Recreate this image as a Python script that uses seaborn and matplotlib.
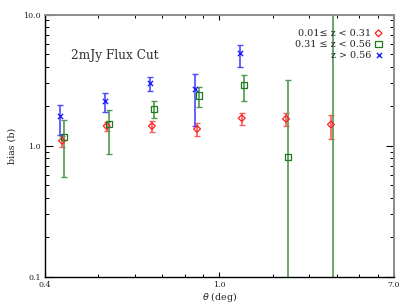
import numpy as np
import pandas as pd
import matplotlib
matplotlib.use("Agg")
import matplotlib.pyplot as plt
import matplotlib.ticker as mticker
import seaborn as sns

# bias vs angular scale, three redshift bins
theta_low = [0.427, 0.520, 0.659, 0.864, 1.361, 2.323, 3.759]
bias_low = [1.09, 1.41, 1.41, 1.34, 1.62, 1.60, 1.45]
bias_low_lo = [0.974, 1.30, 1.27, 1.19, 1.44, 1.42, 1.12]
bias_low_hi = [1.19, 1.52, 1.53, 1.49, 1.77, 1.76, 1.72]

theta_mid = [0.431, 0.526, 0.667, 0.876, 1.397, 2.384, 3.836]
bias_mid = [1.17, 1.46, 1.91, 2.41, 2.88, 0.821, 20.0]
bias_mid_lo = [0.578, 0.861, 1.61, 1.97, 2.19, 0.01, 0.01]
bias_mid_hi = [1.56, 1.88, 2.17, 2.80, 3.43, 3.17, 100.0]

theta_high = [0.424, 0.516, 0.653, 0.853, 1.325]
bias_high = [1.68, 2.20, 3.02, 2.70, 5.05]
bias_high_lo = [1.20, 1.79, 2.59, 1.42, 3.98]
bias_high_hi = [2.04, 2.52, 3.34, 3.52, 5.89]

labels = ["0.01\u2264 z < 0.31", "0.31 \u2264 z < 0.56", "z > 0.56"]
x_ticks = [0.4, 1.0, 7.0]
x_minor = [0.5, 0.6, 0.7, 0.8, 0.9, 2, 3, 4, 5, 6]
y_ticks = [0.1, 1.0, 10.0]

sns.set_style("ticks")
plt.rcParams['font.family'] = ['DejaVu Serif']

# the theta axis of the original is stretched: 0.4-1 and 1-7 each take half the width
K = np.log10(7.7 / 1.7)


def fwd(x):
    x = np.asarray(x, dtype=float)
    lo = np.log10(np.clip(10 * x - 2.3, 1e-6, None) / 1.7) / K - 1
    hi = np.log10(np.clip(x + 0.7, 1e-6, None) / 1.7) / K
    return np.where(x < 1, lo, hi)


def inv(u):
    u = np.clip(np.asarray(u, dtype=float), -5, 5)
    lo = (1.7 * 10 ** ((u + 1) * K) + 2.3) / 10
    hi = 1.7 * 10 ** (u * K) - 0.7
    return np.where(u < 0, lo, hi)


fig = plt.figure(figsize=(4.07, 3.06), dpi=100)
ax = fig.add_axes([45 / 407, 1 - 276.7 / 306, 349 / 407, 262.2 / 306])

series = [
    (theta_low, bias_low, bias_low_lo, bias_low_hi, '#ff2020', 'D', 12, labels[0]),
    (theta_mid, bias_mid, bias_mid_lo, bias_mid_hi, '#1e7a1e', 's', 20, labels[1]),
    (theta_high, bias_high, bias_high_lo, bias_high_hi, '#2020ff', 'x', 14, labels[2]),
]
ecolors = ['#ff5a5a', '#4f9a4f', '#4a4aff']

for (th, b, lo, hi, col, mk, size, lab), ec in zip(series, ecolors):
    b = np.array(b)
    yerr = [b - np.array(lo), np.array(hi) - b]
    ax.errorbar(th, b, yerr=yerr, fmt='none', ecolor=ec, elinewidth=1.2,
                capsize=2, capthick=1.0, zorder=2)
    df = pd.DataFrame({'theta': th, 'bias': b})
    if mk == 'x':
        sns.scatterplot(data=df, x='theta', y='bias', ax=ax, marker=mk, s=size,
                        color=col, linewidth=1.0, label=lab, zorder=3)
    else:
        sns.scatterplot(data=df, x='theta', y='bias', ax=ax, marker=mk, s=size,
                        facecolor='none', edgecolor=col, linewidth=0.9, label=lab, zorder=3)

ax.set_xscale('function', functions=(fwd, inv))
ax.set_yscale('log')
ax.set_xlim(0.4, 7.0)
ax.set_ylim(0.1, 10.0)

ax.xaxis.set_major_locator(mticker.FixedLocator(x_ticks))
ax.xaxis.set_major_formatter(mticker.FixedFormatter(["0.4", "1.0", "7.0"]))
ax.xaxis.set_minor_locator(mticker.FixedLocator(x_minor))
ax.xaxis.set_minor_formatter(mticker.NullFormatter())
ax.yaxis.set_major_locator(mticker.FixedLocator(y_ticks))
ax.yaxis.set_major_formatter(mticker.FixedFormatter(["0.1", "1.0", "10.0"]))
ax.yaxis.set_minor_locator(mticker.LogLocator(base=10, subs=np.arange(2, 10)))
ax.yaxis.set_minor_formatter(mticker.NullFormatter())

ax.tick_params(which='both', direction='in', top=True, right=True, color='black',
               labelsize=5.8, pad=3, labelcolor='#222222')
ax.tick_params(axis='y', which='major', length=6, width=0.8)
ax.tick_params(axis='y', which='minor', length=3, width=0.7)
ax.tick_params(axis='x', which='major', length=3.5, width=0.8)
ax.tick_params(axis='x', which='minor', length=2.5, width=0.7)

for side in ['left', 'bottom']:
    ax.spines[side].set_color('black')
    ax.spines[side].set_linewidth(1.0)
for side in ['top', 'right']:
    ax.spines[side].set_color('0.55')
    ax.spines[side].set_linewidth(1.4)

ax.set_xlabel(r"$\theta$ (deg)", fontsize=6.8, labelpad=1, color='#222222')
ax.set_ylabel("bias (b)", fontsize=6.8, labelpad=5, color='#222222')
ax.text(0.075, 0.83, "2mJy Flux Cut", transform=ax.transAxes, fontsize=8.7, color='#333333')

leg = ax.legend(loc='upper right', bbox_to_anchor=(0.975, 0.96), frameon=False, markerfirst=False,
                fontsize=6.9, handlelength=0.6, handletextpad=0.5, labelspacing=0.2,
                borderaxespad=0)
for t in leg.get_texts():
    t.set_color('#222222')

fig.savefig("out.png", dpi=100)
